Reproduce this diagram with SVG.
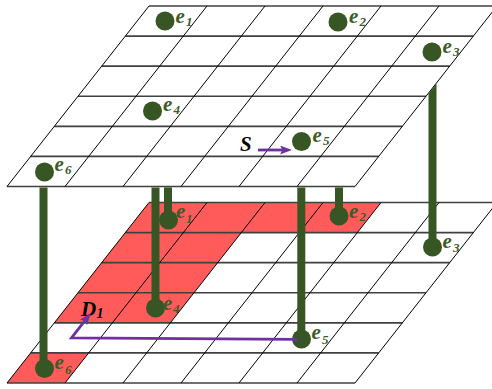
<svg xmlns="http://www.w3.org/2000/svg" xmlns:xlink="http://www.w3.org/1999/xlink" width="492" height="389" viewBox="0 0 492 389">
<style>
.plane{fill:#ffffff;stroke:none}
.hl{stroke:#404040;stroke-width:1.6;fill:none}
.dl{stroke:#000000;stroke-width:1;fill:none}
.red{fill:#ff5b5b;stroke:none}
.dot{fill:#375623}
.lbl{font-family:"Liberation Serif","Times New Roman",serif;font-style:italic;font-weight:bold;fill:#3b5c29;font-size:21px}
.sub{font-size:13px}
.big{font-family:"Liberation Serif","Times New Roman",serif;font-style:italic;font-weight:bold;fill:#000000;font-size:21px}
.pillar{stroke:#375623;stroke-width:8;fill:none}
.pillarp{fill:#375623}
.arrow{stroke:#7030a0;stroke-width:2.8;fill:none;stroke-linejoin:miter}
</style>
<defs>
<marker id="ah" markerUnits="userSpaceOnUse" markerWidth="13" markerHeight="10" refX="4" refY="4.5" orient="auto">
<path d="M0,0 L12,4.5 L0,9 L2.5,4.5 z" fill="#7030a0"/>
</marker>
<g id="grid">
<polygon class="plane" points="149,6 497,6 355,186.5 7,186.5"/>
</g>
<g id="gridlines">
<line class="hl" x1="149" y1="6" x2="497" y2="6"/>
<line class="hl" x1="125.333" y1="36.083" x2="473.333" y2="36.083"/>
<line class="hl" x1="101.667" y1="66.167" x2="449.667" y2="66.167"/>
<line class="hl" x1="78" y1="96.25" x2="426" y2="96.25"/>
<line class="hl" x1="54.333" y1="126.333" x2="402.333" y2="126.333"/>
<line class="hl" x1="30.667" y1="156.417" x2="378.667" y2="156.417"/>
<line class="hl" x1="7" y1="186.5" x2="355" y2="186.5"/>
<line class="dl" x1="149" y1="6" x2="7" y2="186.5"/>
<line class="dl" x1="207" y1="6" x2="65" y2="186.5"/>
<line class="dl" x1="265" y1="6" x2="123" y2="186.5"/>
<line class="dl" x1="323" y1="6" x2="181" y2="186.5"/>
<line class="dl" x1="381" y1="6" x2="239" y2="186.5"/>
<line class="dl" x1="439" y1="6" x2="297" y2="186.5"/>
<line class="dl" x1="497" y1="6" x2="355" y2="186.5"/>
</g>
</defs>

<g id="bottom-plane" transform="translate(0,196.5)">
<use xlink:href="#grid"/>
<polygon class="red" points="149,6 381,6 357.333,36.083 125.333,36.083"/>
<polygon class="red" points="125.333,36.083 241.333,36.083 170.333,126.333 54.333,126.333"/>
<polygon class="red" points="30.667,156.417 88.667,156.417 65,186.5 7,186.5"/>
<use xlink:href="#gridlines"/>
</g>

<g id="e1-bottom"><circle class="dot" cx="168.5" cy="220" r="9.5"/><text class="lbl"><tspan x="176" y="218">e</tspan><tspan class="sub" x="186" y="223">1</tspan></text></g>
<g id="e2-bottom"><circle class="dot" cx="339" cy="216" r="9.5"/><text class="lbl"><tspan x="349" y="218.3">e</tspan><tspan class="sub" x="359.5" y="221">2</tspan></text></g>
<g id="e3-bottom"><circle class="dot" cx="432.5" cy="247" r="9.5"/><text class="lbl"><tspan x="442.5" y="248.3">e</tspan><tspan class="sub" x="453" y="251.5">3</tspan></text></g>
<g id="e4-bottom"><circle class="dot" cx="155.5" cy="308" r="9.5"/><text class="lbl"><tspan x="163" y="310">e</tspan><tspan class="sub" x="173" y="313">4</tspan></text></g>
<g id="e5-bottom"><circle class="dot" cx="301.5" cy="339" r="9.5"/><text class="lbl"><tspan x="311.5" y="338.5">e</tspan><tspan class="sub" x="322" y="343.5">5</tspan></text></g>
<g id="e6-bottom"><circle class="dot" cx="44.5" cy="368.5" r="9.5"/><text class="lbl"><tspan x="54.5" y="368.5">e</tspan><tspan class="sub" x="65" y="373.5">6</tspan></text></g>
<g id="D1"><text class="big"><tspan x="81" y="316">D</tspan><tspan x="96.5" y="317.5" font-size="14px">1</tspan></text></g>

<g id="top-plane">
<use xlink:href="#grid"/>
<use xlink:href="#gridlines"/>
</g>

<g id="e1-top"><circle class="dot" cx="165" cy="21" r="9.5"/><text class="lbl"><tspan x="175.5" y="22.7">e</tspan><tspan class="sub" x="186" y="26">1</tspan></text></g>
<g id="e2-top"><circle class="dot" cx="338" cy="22" r="9.5"/><text class="lbl"><tspan x="349" y="22.5">e</tspan><tspan class="sub" x="359.5" y="25.5">2</tspan></text></g>
<g id="e3-top"><circle class="dot" cx="432" cy="52" r="9.5"/><text class="lbl"><tspan x="442.5" y="52.7">e</tspan><tspan class="sub" x="453" y="55.5">3</tspan></text></g>
<g id="e4-top"><circle class="dot" cx="152.5" cy="111" r="9.5"/><text class="lbl"><tspan x="163" y="110.5">e</tspan><tspan class="sub" x="173.5" y="113.5">4</tspan></text></g>
<g id="e5-top"><circle class="dot" cx="301.5" cy="141.5" r="9.5"/><text class="lbl"><tspan x="312.5" y="141.7">e</tspan><tspan class="sub" x="323" y="144.5">5</tspan></text></g>
<g id="e6-top"><circle class="dot" cx="44.5" cy="172" r="9.5"/><text class="lbl"><tspan x="54.5" y="170.7">e</tspan><tspan class="sub" x="65" y="174">6</tspan></text></g>
<g id="S"><text class="big" x="240" y="150.5">S</text></g>

<g id="connectors">
<line class="pillar" x1="43.5" y1="187.4" x2="43.5" y2="368.5"/>
<line class="pillar" x1="155.5" y1="187.4" x2="155.5" y2="308"/>
<line class="pillar" x1="168" y1="187.4" x2="168" y2="220"/>
<line class="pillar" x1="301.3" y1="187.4" x2="301.3" y2="339"/>
<line class="pillar" x1="339" y1="187.4" x2="339" y2="216"/>
<polygon class="pillarp" points="428.5,93.8 436.5,83.6 436.5,247 428.5,247"/>
<path class="arrow" d="M297,339.3 L71.5,337.8 L85.9,319.4" marker-end="url(#ah)"/>
<line class="arrow" x1="258" y1="150" x2="284" y2="150" marker-end="url(#ah)"/>
</g>
</svg>
